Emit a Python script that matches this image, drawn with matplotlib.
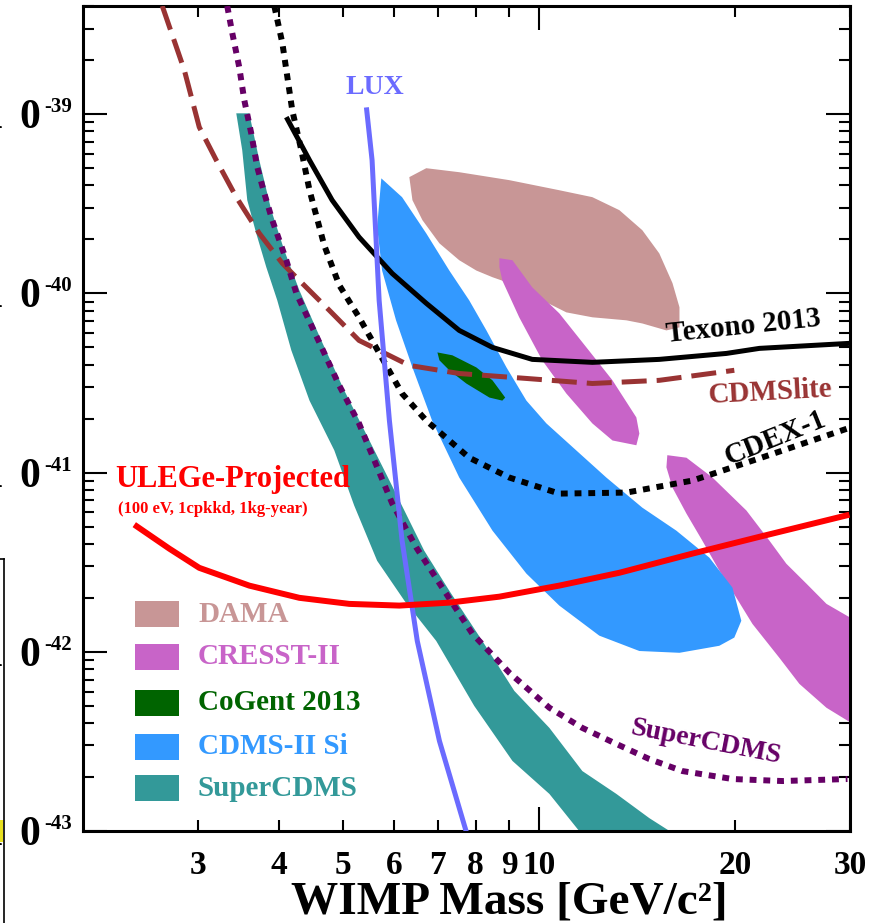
import matplotlib
matplotlib.use('Agg')
import matplotlib.pyplot as plt
from matplotlib.ticker import FixedLocator, FixedFormatter, LogLocator, NullFormatter
from matplotlib.patches import Rectangle
from matplotlib.lines import Line2D

plt.rcParams['font.family'] = ['Liberation Serif', 'DejaVu Serif']
plt.rcParams['font.weight'] = 'bold'

# ---------------- data (WIMP mass in GeV, cross section in cm^2) ----------------
lux_m = [5.44, 5.55, 5.69, 5.90, 6.17, 6.51, 7.04, 7.74]
lux_s = [1.09e-39, 5.53e-40, 9.14e-41, 1.95e-41, 4.17e-42, 1.15e-42, 3.18e-43, 0.99e-43]

texono_m = [4.10, 4.45, 4.82, 5.30, 5.96, 6.72, 7.55, 8.49, 9.77, 12.08, 15.30, 19.39, 21.79, 30.0]
texono_s = [9.62e-40, 5.53e-40, 3.31e-40, 2.06e-40, 1.29e-40, 8.80e-41, 6.21e-41, 4.99e-41,
            4.28e-41, 4.12e-41, 4.28e-41, 4.62e-41, 4.93e-41, 5.26e-41]

cdmslite_m = [2.646, 2.860, 3.015, 3.202, 3.436, 3.727, 4.043, 4.293, 4.772, 5.30, 6.33, 7.55,
              9.57, 12.08, 15.30, 19.94]
cdmslite_s = [4.01e-39, 1.76e-39, 8.46e-40, 5.53e-40, 3.44e-40, 2.16e-40, 1.47e-40, 1.18e-40,
              8.04e-41, 5.46e-41, 3.96e-41, 3.57e-41, 3.35e-41, 3.14e-41, 3.27e-41, 3.72e-41]

cdex_m = [3.930, 4.043, 4.187, 4.323, 4.45, 4.688, 4.943, 5.30, 6.17, 6.72, 7.82, 9.01, 10.75,
          13.62, 17.20, 21.79, 30.0]
cdex_s = [4.01e-39, 2.49e-39, 1.05e-39, 6.29e-40, 3.76e-40, 1.85e-40, 1.11e-40, 7.35e-41,
          2.76e-41, 1.95e-41, 1.21e-41, 9.38e-42, 7.63e-42, 7.73e-42, 9.02e-42, 1.20e-41, 1.78e-41]

scdms_lim_m = [3.328, 3.388, 3.472, 3.534, 3.622, 3.700, 3.793, 3.902, 4.10, 4.248, 4.607, 4.943,
               5.30, 5.96, 6.49, 7.11, 7.91, 9.01, 10.38, 11.66, 13.15, 14.77, 16.60, 19.81, 23.63, 29.73]
scdms_lim_s = [4.01e-39, 2.83e-39, 1.83e-39, 1.20e-39, 7.83e-40, 5.06e-40, 3.62e-40, 2.56e-40,
               1.53e-40, 1.00e-40, 5.32e-41, 3.06e-41, 1.88e-41, 6.71e-42, 3.81e-42, 2.28e-42,
               1.26e-42, 7.64e-43, 4.87e-43, 3.76e-43, 3.06e-43, 2.52e-43, 2.16e-43, 1.95e-43,
               1.90e-43, 1.95e-43]

ulege_m = [2.397, 2.713, 3.015, 3.597, 4.293, 5.121, 6.11, 7.29, 8.70, 10.75, 13.29, 17.20, 21.79, 29.94]
ulege_s = [5.12e-42, 3.76e-42, 2.94e-42, 2.34e-42, 2.00e-42, 1.85e-42, 1.81e-42, 1.88e-42,
           2.03e-42, 2.34e-42, 2.76e-42, 3.53e-42, 4.38e-42, 5.82e-42]

dama_m = [6.33, 6.72, 7.55, 9.01, 10.75, 12.08, 13.29, 14.41, 15.30, 16.03, 16.43, 16.43, 15.69,
          14.41, 13.62, 12.08, 11.02, 9.91, 9.01, 8.49, 8.02, 7.55, 7.04, 6.63, 6.40]
dama_s = [4.45e-40, 4.99e-40, 4.74e-40, 4.28e-40, 3.76e-40, 3.44e-40, 2.91e-40, 2.25e-40,
          1.67e-40, 1.14e-40, 8.36e-41, 6.46e-41, 6.21e-41, 6.79e-41, 7.07e-41, 7.35e-41,
          7.83e-41, 9.50e-41, 1.14e-40, 1.23e-40, 1.34e-40, 1.53e-40, 1.90e-40, 2.56e-40, 3.31e-40]

cresst1_m = [8.70, 9.11, 9.77, 10.75, 11.83, 12.97, 14.11, 14.26, 14.11, 12.97, 12.08, 11.02,
             10.12, 9.33, 8.79, 8.70]
cresst1_s = [1.57e-40, 1.53e-40, 1.08e-40, 7.73e-41, 4.99e-41, 3.27e-41, 2.03e-41, 1.65e-41,
             1.42e-41, 1.51e-41, 1.88e-41, 2.76e-41, 4.23e-41, 7.35e-41, 1.18e-40, 1.40e-40]

cresst2_m = [15.74, 16.84, 18.46, 20.81, 22.57, 23.96, 25.72, 27.61, 30.5, 30.5, 27.61, 25.09,
             23.38, 21.26, 20.09, 18.91, 17.81, 16.84, 16.03, 15.69]
cresst2_s = [1.25e-41, 1.21e-41, 9.38e-42, 6.14e-42, 4.17e-42, 3.10e-42, 2.40e-42, 1.85e-42,
             1.50e-42, 3.90e-43, 4.87e-43, 6.62e-43, 9.25e-43, 1.43e-42, 2.00e-42, 2.84e-42,
             4.17e-42, 5.90e-42, 8.24e-42, 1.07e-41]

cogent_m = [6.99, 7.37, 8.02, 8.49, 8.88, 8.79, 8.40, 7.74, 7.29, 7.04]
cogent_s = [4.68e-41, 4.51e-41, 3.86e-41, 3.27e-41, 2.62e-41, 2.52e-41, 2.62e-41, 3.14e-41,
            3.72e-41, 4.23e-41]

cdms_si_m = [5.734, 6.17, 6.72, 7.29, 7.82, 8.31, 8.92, 9.57, 10.27, 11.41, 12.69, 14.41, 16.25,
             18.26, 19.81, 20.44, 19.94, 18.91, 16.43, 14.26, 12.38, 10.75, 9.57, 8.49, 7.55,
             6.86, 6.40, 6.04, 5.75, 5.65]
cdms_si_s = [4.38e-40, 3.44e-40, 2.16e-40, 1.34e-40, 9.14e-41, 6.21e-41, 3.86e-41, 2.52e-41,
             1.88e-41, 1.33e-41, 9.38e-42, 6.37e-42, 4.74e-42, 3.35e-42, 2.28e-42, 1.49e-42,
             1.20e-42, 1.08e-42, 9.87e-43, 1.01e-42, 1.23e-42, 1.81e-42, 2.73e-42, 4.74e-42,
             9.38e-42, 1.95e-41, 3.86e-41, 7.07e-41, 1.34e-40, 2.34e-40]

scdms_band_m = [3.597, 3.727, 3.888, 4.070, 4.293, 4.639, 5.031, 5.400, 5.795, 6.22, 6.67, 7.29,
                8.19, 9.17, 10.38, 11.66, 13.15, 14.77, 16.6, 11.8, 10.38, 9.11, 7.96, 6.96,
                6.22, 5.65, 5.21, 4.857, 4.45, 4.173, 3.971, 3.820, 3.687, 3.572, 3.509, 3.436]
scdms_band_s = [1.01e-39, 5.53e-40, 2.91e-40, 1.74e-40, 1.04e-40, 5.46e-41, 2.87e-41, 1.72e-41,
                1.03e-41, 6.14e-42, 3.67e-42, 2.19e-42, 1.15e-42, 6.05e-43, 3.76e-43, 2.16e-43,
                1.61e-43, 1.18e-43, 9.0e-44, 9.0e-44, 1.61e-43, 2.46e-43, 4.99e-43, 1.15e-42,
                1.93e-42, 3.22e-42, 6.55e-42, 1.33e-41, 2.52e-41, 4.81e-41, 9.14e-41, 1.40e-40,
                2.16e-40, 3.31e-40, 6.29e-40, 1.01e-39]

x_ticks_labeled = [3, 4, 5, 6, 7, 8, 9, 10, 20, 30]
y_decades = [-43, -42, -41, -40, -39]

legend_names = ['DAMA', 'CRESST-II', 'CoGent 2013', 'CDMS-II Si', 'SuperCDMS']

# ---------------- colours ----------------
C_DAMA = '#c89696'
C_CRESST = '#c864c8'
C_COGENT = '#006400'
C_CDMSSI = '#3399ff'
C_SCDMS = '#339999'
C_LUX = '#6b6bff'
C_BROWN = '#993333'
C_PURPLE = '#660066'
C_RED = '#ff0000'
legend_colors = [C_DAMA, C_CRESST, C_COGENT, C_CDMSSI, C_SCDMS]

W, H = 870, 923
fig = plt.figure(figsize=(W / 100, H / 100), dpi=100)
ax = fig.add_axes([83 / W, 92 / H, 767 / W, 825 / H])
ax.set_xscale('log')
ax.set_yscale('log')
ax.set_xlim(2.0, 30.0)
ax.set_ylim(1e-43, 4.01e-39)

# regions
ax.fill(dama_m, dama_s, color=C_DAMA, lw=0, zorder=1)
ax.fill(cresst1_m, cresst1_s, color=C_CRESST, lw=0, zorder=2)
ax.fill(cresst2_m, cresst2_s, color=C_CRESST, lw=0, zorder=2)
ax.fill(cdms_si_m, cdms_si_s, color=C_CDMSSI, lw=0, zorder=2)
ax.fill(scdms_band_m, scdms_band_s, color=C_SCDMS, lw=0, zorder=2)
ax.fill(cogent_m, cogent_s, color=C_COGENT, lw=0, zorder=3)

# curves
ax.plot(texono_m, texono_s, color='black', lw=3.6, zorder=5, solid_capstyle='butt',
        solid_joinstyle='round')
ax.plot(cdmslite_m, cdmslite_s, color=C_BROWN, lw=3.6, dashes=(5, 2), zorder=5,
        dash_capstyle='butt')
ax.plot(cdex_m, cdex_s, color='black', lw=4.3, dashes=(1.15, 1.15), zorder=5,
        dash_capstyle='butt')
ax.plot(scdms_lim_m, scdms_lim_s, color=C_PURPLE, lw=4.3, dashes=(1.15, 1.15), zorder=5,
        dash_capstyle='butt')
ax.plot(lux_m, lux_s, color=C_LUX, lw=3.6, zorder=6, solid_capstyle='butt',
        solid_joinstyle='round')
ax.plot(ulege_m, ulege_s, color=C_RED, lw=4.3, zorder=6, solid_capstyle='butt',
        solid_joinstyle='round')

# axes styling
for sp in ax.spines.values():
    sp.set_linewidth(2.2)
ax.xaxis.set_major_locator(FixedLocator([10]))
ax.xaxis.set_minor_locator(FixedLocator([t for t in x_ticks_labeled if t != 10]))
ax.xaxis.set_major_formatter(FixedFormatter(['10']))
ax.xaxis.set_minor_formatter(FixedFormatter([str(t) for t in x_ticks_labeled if t != 10]))
ax.yaxis.set_major_locator(LogLocator(base=10, numticks=20))
ax.yaxis.set_minor_locator(LogLocator(base=10, subs=range(2, 10), numticks=20))
ax.yaxis.set_major_formatter(NullFormatter())
ax.yaxis.set_minor_formatter(NullFormatter())
ax.tick_params(which='both', direction='in', top=True, right=True, width=1.5)
ax.tick_params(which='major', length=17)
ax.tick_params(which='minor', length=8)
ax.tick_params(axis='x', which='both', labelsize=24, pad=14)
for lab in ax.get_xticklabels(which='both'):
    lab.set_fontweight('bold')

# y tick labels (left part cropped as in the original)
px = 72 / 100  # points per pixel
for d in y_decades:
    ax.annotate('1', xy=(0, 10.0 ** d), xycoords=('axes fraction', 'data'),
                xytext=((3 - 83) * px, -14 * px), textcoords='offset points',
                ha='right', va='baseline', fontsize=30, fontweight='bold', annotation_clip=False)
    ax.annotate('0', xy=(0, 10.0 ** d), xycoords=('axes fraction', 'data'),
                xytext=((19 - 83) * px, -14 * px), textcoords='offset points',
                ha='left', va='baseline', fontsize=30, fontweight='bold', annotation_clip=False)
    ax.annotate('-%d' % (-d), xy=(0, 10.0 ** d), xycoords=('axes fraction', 'data'),
                xytext=((44 - 83) * px, 2 * px), textcoords='offset points',
                ha='left', va='baseline', fontsize=15, fontweight='bold', annotation_clip=False)

fig.text(509 / W, (H - 914) / H, 'WIMP Mass [GeV/c²]', ha='center', va='baseline',
         fontsize=34, fontweight='bold')

def ftxt(x, y, s, **kw):
    fig.text(x / W, (H - y) / H, s, fontweight='bold', **kw)

# curve labels
ftxt(375, 87, 'LUX', color=C_LUX, fontsize=20, ha='center', va='center')
ftxt(743, 326, 'Texono 2013', color='black', fontsize=21, ha='center', va='center', rotation=6)
ftxt(770, 392, 'CDMSlite', color=C_BROWN, fontsize=21, ha='center', va='center', rotation=3)
ftxt(775, 438, 'CDEX-1', color='black', fontsize=21, ha='center', va='center', rotation=22)
ftxt(706, 742, 'SuperCDMS', color=C_PURPLE, fontsize=20, ha='center', va='center', rotation=-11)
ftxt(115, 480, 'ULEGe-Projected', color=C_RED, fontsize=22, ha='left', va='center')
ftxt(118, 509, '(100 eV, 1cpkkd, 1kg-year)', color=C_RED, fontsize=12, ha='left', va='center')

# legend boxes
leg_y = [614, 657, 703, 747, 788]
for name, col, yc in zip(legend_names, legend_colors, leg_y):
    fig.patches.append(Rectangle((135 / W, (H - yc - 13) / H), 44 / W, 26 / H,
                                 transform=fig.transFigure, color=col, lw=0, zorder=10))
    ftxt(198, yc, name, color=col, fontsize=21, ha='left', va='center', zorder=10)

# cropped neighbouring panel at left edge
fig.add_artist(Line2D([0, 4 / W], [(H - 559) / H, (H - 559) / H], transform=fig.transFigure,
                      color='black', lw=1.2))
fig.add_artist(Line2D([4 / W, 4 / W], [(H - 559) / H, 0], transform=fig.transFigure,
                      color='black', lw=1.2))
fig.patches.append(Rectangle((0, (H - 842) / H), 3 / W, 22 / H, transform=fig.transFigure,
                             color='#e8e020', lw=0))

fig.savefig('out.png', dpi=100, facecolor='white')
